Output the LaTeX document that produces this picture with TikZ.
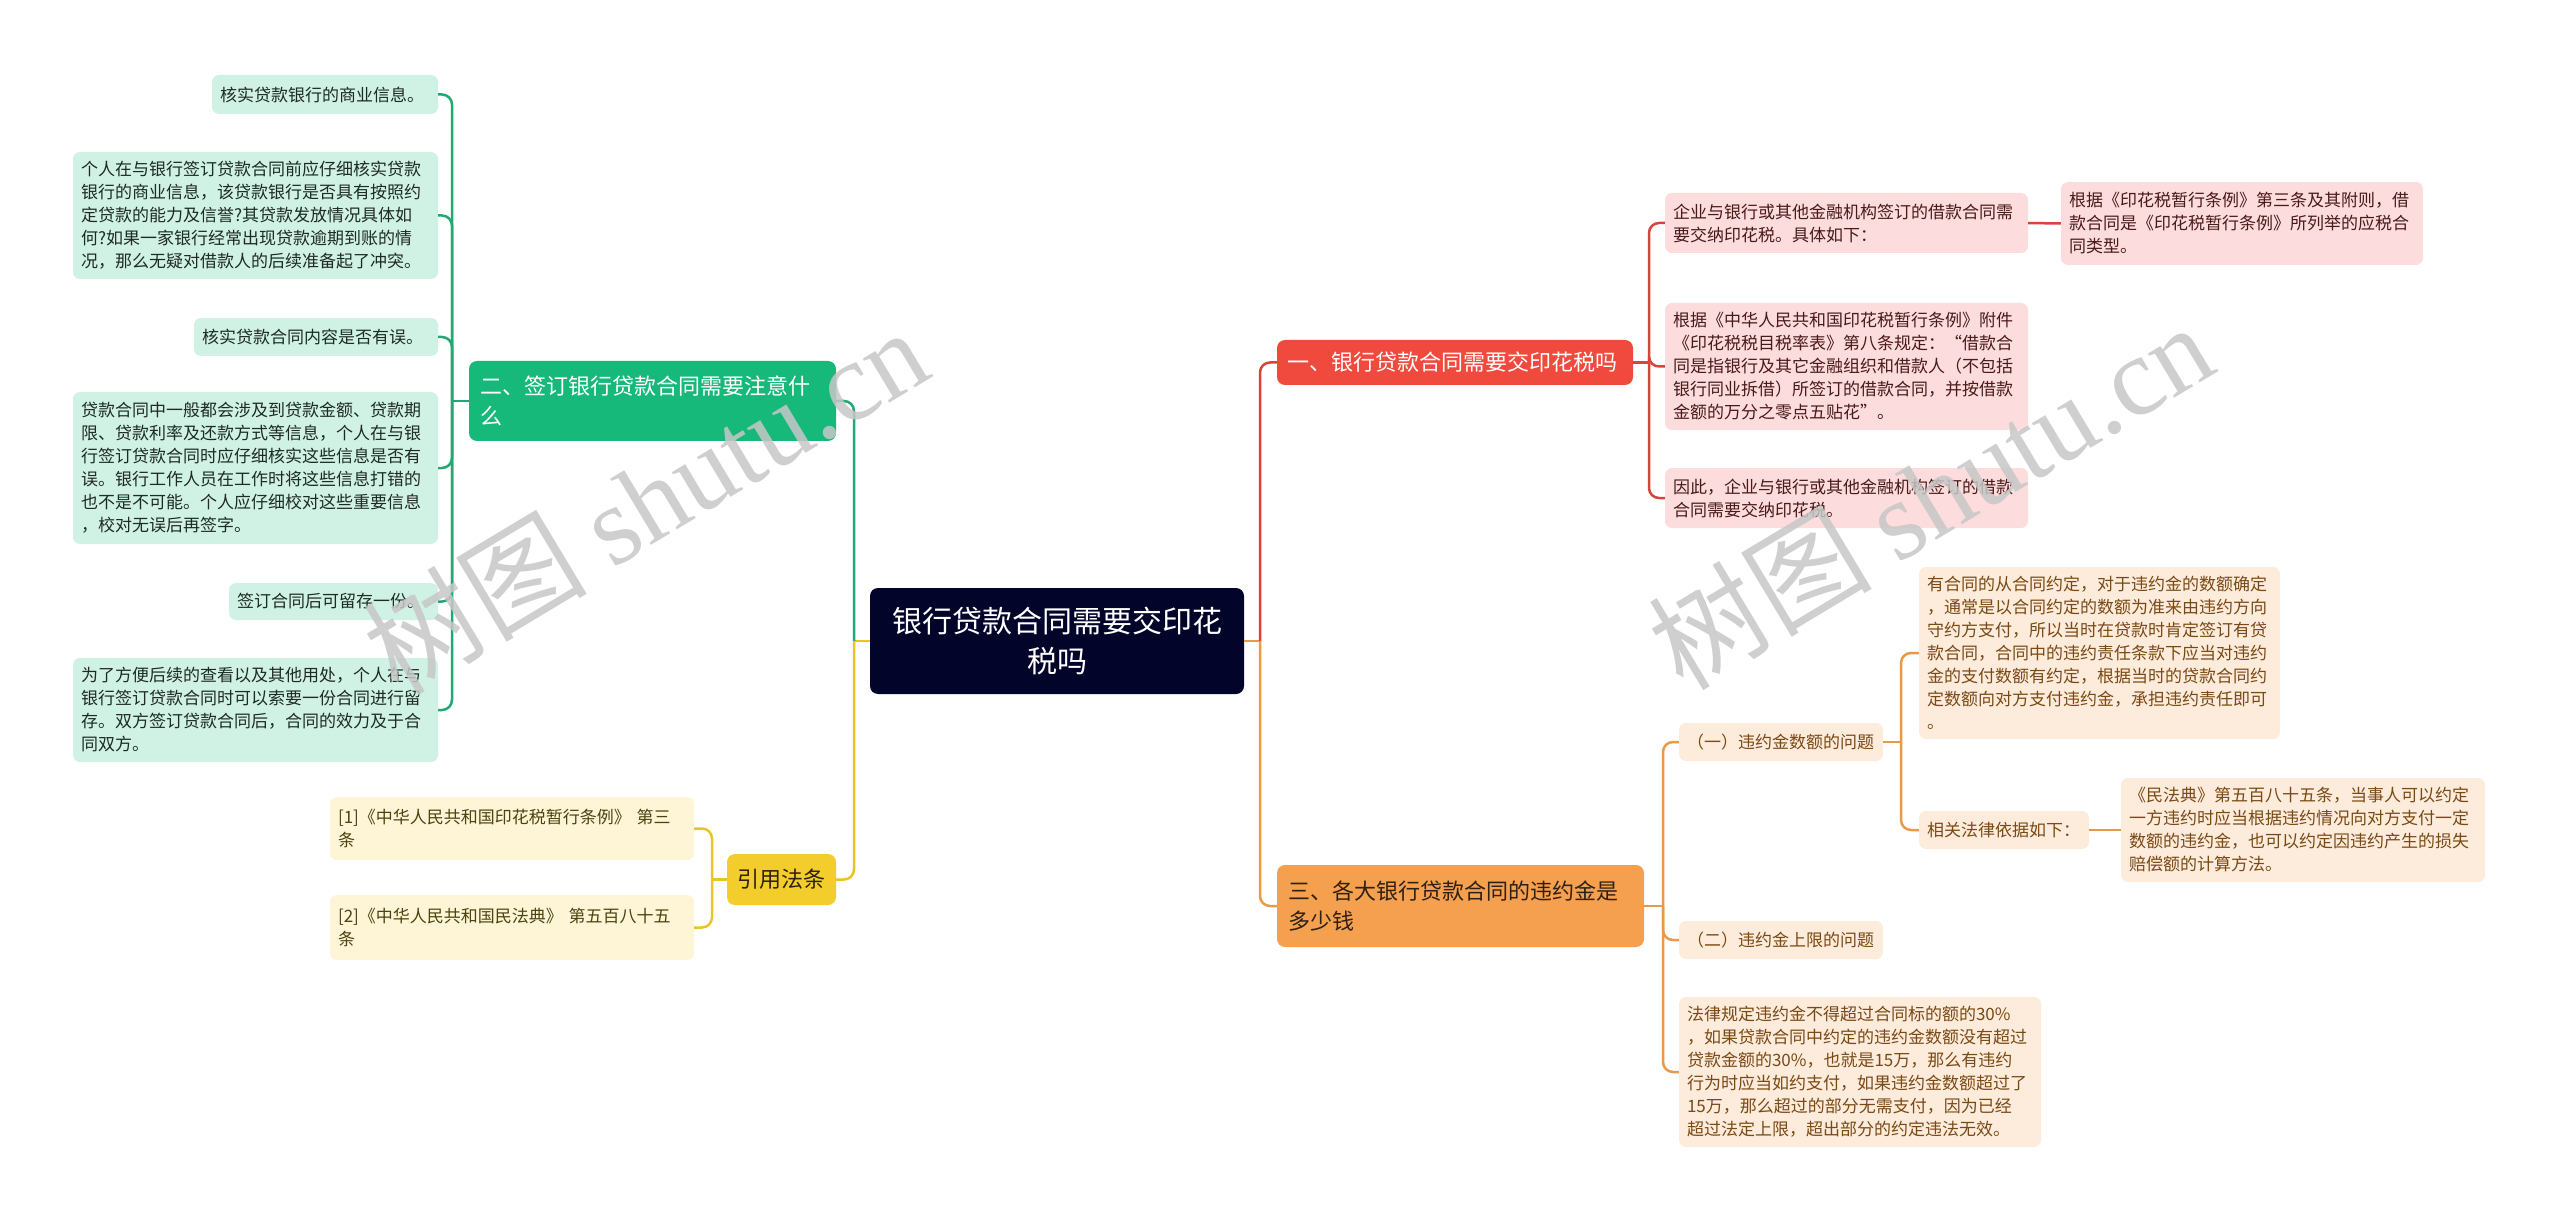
\documentclass[tikz,border=0pt]{standalone}
\usepackage{fontspec}
\setmainfont{Noto Sans CJK SC}
\newfontfamily\wmserif{Liberation Serif}
\usepackage{tikz}
\usetikzlibrary{calc}

\definecolor{rootfill}{HTML}{03042A}
\definecolor{gmain}{HTML}{17B97B}
\definecolor{gline}{HTML}{22A872}
\definecolor{gleaffill}{HTML}{D0F2E4}
\definecolor{gtext}{HTML}{1E2A24}
\definecolor{ymain}{HTML}{F2CD2B}
\definecolor{yline}{HTML}{EAC425}
\definecolor{yleaffill}{HTML}{FDF5D6}
\definecolor{ytext}{HTML}{4D4210}
\definecolor{rmain}{HTML}{EF4A3D}
\definecolor{rline}{HTML}{D9433B}
\definecolor{rleaffill}{HTML}{FCDCDC}
\definecolor{rtext}{HTML}{4A1A1A}
\definecolor{omain}{HTML}{F5A04E}
\definecolor{oline}{HTML}{E89A4A}
\definecolor{oleaffill}{HTML}{FDEBDC}
\definecolor{otext}{HTML}{7A4A14}
\definecolor{mtext}{HTML}{2E2012}

\begin{document}
\begin{tikzpicture}[x=1pt,y=-1pt,
    leaf/.style={rounded corners=7pt, inner xsep=8pt, inner ysep=6pt, align=left,
      font=\fontsize{17}{23}\selectfont},
    gleaf/.style={leaf, fill=gleaffill, text=gtext},
    yleaf/.style={leaf, fill=yleaffill, text=ytext},
    rleaf/.style={leaf, fill=rleaffill, text=rtext},
    oleaf/.style={leaf, fill=oleaffill, text=otext},
    branch/.style={rounded corners=8pt, inner xsep=11pt, inner ysep=6pt, align=left,
      font=\fontsize{22}{30}\selectfont},
    conn/.style={line width=2.5pt, rounded corners=10pt},
    wmark/.style={text=black!22, opacity=0.85, rotate=31, font=\fontsize{112}{112}\selectfont}]
  \useasboundingbox (0,0) rectangle (2560,1222);

  % root
  \node[rounded corners=8pt, fill=rootfill, text=white, align=center, text width=352pt,
    inner xsep=11pt, minimum height=106pt, font=\fontsize{30}{40}\selectfont] (root) at (1057,641)
    {银行贷款合同需要交印花\\税吗};

  % left: section two
  \node[branch, fill=gmain, text=white, text width=345pt, minimum height=80pt] (sec2) at (652.5,401)
    {二、签订银行贷款合同需要注意什\\么};
  \node[gleaf, text width=210pt, minimum height=39pt] (g1) at (325,94.5) {核实贷款银行的商业信息。};
  \node[gleaf, text width=349pt, minimum height=127pt] (g2) at (255.5,215.5)
    {个人在与银行签订贷款合同前应仔细核实贷款\\银行的商业信息，该贷款银行是否具有按照约\\定贷款的能力及信誉?其贷款发放情况具体如\\何?如果一家银行经常出现贷款逾期到账的情\\况，那么无疑对借款人的后续准备起了冲突。};
  \node[gleaf, text width=228pt, minimum height=38pt] (g3) at (316,337) {核实贷款合同内容是否有误。};
  \node[gleaf, text width=349pt, minimum height=152pt] (g4) at (255.5,468)
    {贷款合同中一般都会涉及到贷款金额、贷款期\\限、贷款利率及还款方式等信息，个人在与银\\行签订贷款合同时应仔细核实这些信息是否有\\误。银行工作人员在工作时将这些信息打错的\\也不是不可能。个人应仔细校对这些重要信息\\，校对无误后再签字。};
  \node[gleaf, text width=193pt, minimum height=37pt] (g5) at (333.5,601.5) {签订合同后可留存一份。};
  \node[gleaf, text width=349pt, minimum height=104pt] (g6) at (255.5,710)
    {为了方便后续的查看以及其他用处，个人在与\\银行签订贷款合同时可以索要一份合同进行留\\存。双方签订贷款合同后，合同的效力及于合\\同双方。};

  % left: cited laws
  \node[rounded corners=8pt, fill=ymain, text=mtext, minimum width=109pt, minimum height=51pt,
    inner xsep=0pt, font=\fontsize{22}{30}\selectfont] (law) at (781.5,879.5) {引用法条};
  \node[yleaf, text width=348pt, minimum height=63pt] (y1) at (512,828.5)
    {[1]《中华人民共和国印花税暂行条例》 第三\\条};
  \node[yleaf, text width=348pt, minimum height=65pt] (y2) at (512,927.5)
    {[2]《中华人民共和国民法典》 第五百八十五\\条};

  % right: section one
  \node[branch, fill=rmain, text=white, inner xsep=10pt, text width=336pt, minimum height=45pt] (sec1)
    at (1455,362.5) {一、银行贷款合同需要交印花税吗};
  \node[rleaf, text width=347pt, minimum height=60pt] (r1) at (1846.5,223)
    {企业与银行或其他金融机构签订的借款合同需\\要交纳印花税。具体如下：};
  \node[rleaf, text width=346pt, minimum height=83pt] (r1a) at (2242,223.5)
    {根据《印花税暂行条例》第三条及其附则，借\\款合同是《印花税暂行条例》所列举的应税合\\同类型。};
  \node[rleaf, text width=347pt, minimum height=127pt] (r2) at (1846.5,366.5)
    {根据《中华人民共和国印花税暂行条例》附件\\《印花税税目税率表》第八条规定：“借款合\\同是指银行及其它金融组织和借款人（不包括\\银行同业拆借）所签订的借款合同，并按借款\\金额的万分之零点五贴花”。};
  \node[rleaf, text width=347pt, minimum height=60pt] (r3) at (1846.5,498)
    {因此，企业与银行或其他金融机构签订的借款\\合同需要交纳印花税。};

  % right: section three
  \node[branch, fill=omain, text=mtext, text width=345pt, minimum height=82pt] (sec3) at (1460.5,906)
    {三、各大银行贷款合同的违约金是\\多少钱};
  \node[oleaf, text width=188pt, minimum height=38pt] (o1) at (1781,742) {（一）违约金数额的问题};
  \node[oleaf, text width=345pt, minimum height=172pt] (o1a) at (2099.5,653)
    {有合同的从合同约定，对于违约金的数额确定\\，通常是以合同约定的数额为准来由违约方向\\守约方支付，所以当时在贷款时肯定签订有贷\\款合同，合同中的违约责任条款下应当对违约\\金的支付数额有约定，根据当时的贷款合同约\\定数额向对方支付违约金，承担违约责任即可\\。};
  \node[oleaf, text width=154pt, minimum height=38pt] (o1b) at (2004,830) {相关法律依据如下：};
  \node[oleaf, text width=348pt, minimum height=104pt] (o1c) at (2303,830)
    {《民法典》第五百八十五条，当事人可以约定\\一方违约时应当根据违约情况向对方支付一定\\数额的违约金，也可以约定因违约产生的损失\\赔偿额的计算方法。};
  \node[oleaf, text width=188pt, minimum height=38pt] (o2) at (1781,940) {（二）违约金上限的问题};
  \node[oleaf, text width=346pt, minimum height=150pt] (o3) at (1860,1072)
    {法律规定违约金不得超过合同标的额的30\%\\，如果贷款合同中约定的违约金数额没有超过\\贷款金额的30\%，也就是15万，那么有违约\\行为时应当如约支付，如果违约金数额超过了\\15万，那么超过的部分无需支付，因为已经\\超过法定上限，超出部分的约定违法无效。};

  % junctions
  \coordinate (lj) at (854,641);
  \coordinate (gj) at (452,401);
  \coordinate (yj) at (712,879.5);
  \coordinate (rj) at (1260,641);
  \coordinate (r1j) at (1649,362.5);
  \coordinate (oj) at (1663,906);
  \coordinate (o1j) at (1901,742);

  % connectors, left
  \draw[conn, yline] (root.west) -- (lj);
  \draw[conn, gline] (lj) |- (sec2.east);
  \draw[conn, yline] (lj) |- (law.east);
  \draw[conn, gline] (sec2.west) -- (gj);
  \foreach \c in {g1,g2,g3,g4,g5,g6}
    \draw[conn, gline] (gj) |- (\c.east);
  \draw[conn, yline] (law.west) -- (yj);
  \foreach \c in {y1,y2}
    \draw[conn, yline] (yj) |- (\c.east);

  % connectors, right
  \draw[conn, oline] (root.east) -- (rj);
  \draw[conn, rline] (rj) |- (sec1.west);
  \draw[conn, oline] (rj) |- (sec3.west);
  \draw[conn, rline] (sec1.east) -- (r1j);
  \foreach \c in {r1,r2,r3}
    \draw[conn, rline] (r1j) |- (\c.west);
  \draw[conn, rline] (r1.east) -- (r1a.west);
  \draw[conn, oline] (sec3.east) -- (oj);
  \foreach \c in {o1,o2,o3}
    \draw[conn, oline] (oj) |- (\c.west);
  \draw[conn, oline] (o1.east) -- (o1j);
  \foreach \c in {o1a,o1b}
    \draw[conn, oline] (o1j) |- (\c.west);
  \draw[conn, oline] (o1b.east) -- (o1c.west);

  % watermarks
  \node[wmark] (wm1) at (645,500) {树图 {\wmserif shutu.cn}};
  \node[wmark] (wm2) at (1930,495) {树图 {\wmserif shutu.cn}};
\end{tikzpicture}
\end{document}
